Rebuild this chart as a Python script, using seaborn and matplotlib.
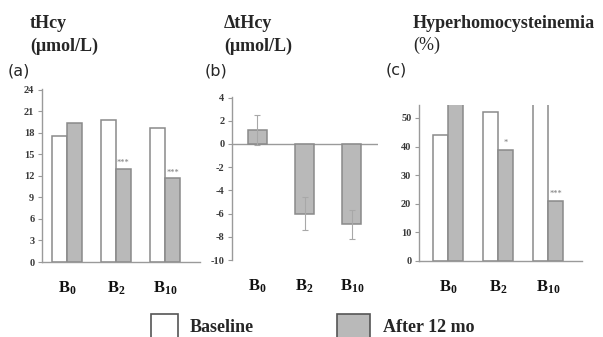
import matplotlib
matplotlib.use("Agg")
import matplotlib.pyplot as plt
from matplotlib.patches import Rectangle
import seaborn as sns
import pandas as pd
import numpy as np

# ---- data ----
groups = ["B0", "B2", "B10"]
group_labels = [r"$\mathbf{B_{0}}$", r"$\mathbf{B_{2}}$", r"$\mathbf{B_{10}}$"]
periods = ["Baseline", "After 12 mo"]
thcy_baseline = [17.6, 19.8, 18.6]
thcy_after = [19.3, 13.0, 11.7]
thcy_sig = ["", "***", "***"]
dthcy_mean = [1.2, -6.0, -6.9]
dthcy_err = [1.3, 1.45, 1.25]
hyper_baseline = [44.0, 52.0, 62.0]
hyper_after = [58.0, 38.7, 21.1]
hyper_sig = ["", "*", "***"]
a_ticks = [0, 3, 6, 9, 12, 15, 18, 21, 24]
b_ticks = [-10, -8, -6, -4, -2, 0, 2, 4]
c_ticks = [0, 10, 20, 30, 40, 50]

sns.set_style("white")
plt.rcParams["font.family"] = ["Liberation Serif", "DejaVu Serif"]
plt.rcParams["mathtext.fontset"] = "custom"
plt.rcParams["mathtext.bf"] = "Liberation Serif:bold"
plt.rcParams["mathtext.rm"] = "Liberation Serif"

W, H = 603, 337
fig = plt.figure(figsize=(W / 100, H / 100), dpi=100)

def px_axes(x0, x1, ytop, ybot):
    return fig.add_axes([x0 / W, 1 - ybot / H, (x1 - x0) / W, (ybot - ytop) / H])

EDGE = "#8a8a8a"
GRAYFILL = "#b9b9b9"
AXC = "#9a9a9a"

def style_axes(ax, ticks):
    sns.despine(ax=ax)
    ax.spines["left"].set_color(AXC)
    ax.spines["bottom"].set_color(AXC)
    ax.spines["left"].set_linewidth(1.0)
    ax.spines["bottom"].set_linewidth(1.0)
    ax.set_yticks(ticks)
    ax.set_yticklabels([str(t) for t in ticks], fontsize=7.5, fontweight="bold", color="#3a3a3a")
    ax.tick_params(axis="y", left=True, length=3, width=0.8, color=AXC, pad=2.5)
    ax.tick_params(axis="x", bottom=False, pad=9)
    ax.set_xticks(range(len(groups)))
    ax.set_xticklabels(group_labels, fontsize=12, color="#111111")
    ax.set_xlabel("")
    ax.set_ylabel("")

def grouped(ax, base, after, sig, ylim, xlim, sig_off):
    df = pd.DataFrame({
        "group": groups * 2,
        "period": [periods[0]] * 3 + [periods[1]] * 3,
        "value": list(base) + list(after),
    })
    sns.barplot(data=df, x="group", y="value", hue="period", order=groups,
                hue_order=periods, palette=["white", GRAYFILL], width=0.6,
                edgecolor=EDGE, linewidth=1.1, errorbar=None, legend=False, ax=ax,
                saturation=1)
    ax.set_ylim(*ylim)
    ax.set_xlim(*xlim)
    for i, (v, s) in enumerate(zip(after, sig)):
        if s:
            ax.text(i + 0.15, v + sig_off, s, ha="center", va="bottom",
                    fontsize=6, color="#777777")

# panel a
axa = px_axes(42, 200, 89, 262)
grouped(axa, thcy_baseline, thcy_after, thcy_sig, (0, 24.1), (-0.51, 2.71), 0.2)
style_axes(axa, a_ticks)

# panel b
axb = px_axes(232, 378, 97, 260)
dfb = pd.DataFrame({"group": groups, "value": dthcy_mean})
sns.barplot(data=dfb, x="group", y="value", order=groups, color=GRAYFILL,
            width=0.4, edgecolor=EDGE, linewidth=1.1, errorbar=None, ax=axb,
            saturation=1)
axb.errorbar(range(len(groups)), dthcy_mean, yerr=dthcy_err, fmt="none",
             ecolor="#a8a8a8", elinewidth=0.8, capsize=2.5, capthick=0.8)
axb.set_ylim(-10, 4.05)
axb.set_xlim(-0.53, 2.55)
style_axes(axb, b_ticks)
axb.spines["bottom"].set_visible(False)
axb.axhline(0, color=AXC, lw=1.0, zorder=0.5)

# panel c
axc = px_axes(419, 582, 105, 261)
grouped(axc, hyper_baseline, hyper_after, hyper_sig, (0, 54.5), (-0.58, 2.68), 1.0)
style_axes(axc, c_ticks)

# titles
def ftxt(x, y, s, **kw):
    fig.text(x / W, 1 - y / H, s, va="center", ha="left", **kw)

TS = 13
ftxt(30, 23, "tHcy", fontsize=TS, fontweight="bold")
ftxt(30, 46, "(\u03bcmol/L)", fontsize=TS, fontweight="bold")
ftxt(8, 71, "(a)", fontsize=11.5, family="DejaVu Sans")
ftxt(224, 23, "\u0394tHcy", fontsize=TS, fontweight="bold")
ftxt(224, 46, "(\u03bcmol/L)", fontsize=TS, fontweight="bold")
ftxt(205, 71, "(b)", fontsize=11.5, family="DejaVu Sans")
ftxt(413, 24, "Hyperhomocysteinemia", fontsize=TS, fontweight="bold")
ftxt(413, 45, "(%)", fontsize=TS)
ftxt(386, 70, "(c)", fontsize=11.5, family="DejaVu Sans")

# legend
for (x0, x1, fc, label, tx) in [(151, 178, "white", periods[0], 190),
                                (337, 370, GRAYFILL, periods[1], 383)]:
    fig.add_artist(Rectangle((x0 / W, -0.05), (x1 - x0) / W, (1 - 314 / H) + 0.05,
                             transform=fig.transFigure, facecolor=fc,
                             edgecolor="#555555", linewidth=1.2))
    ftxt(tx, 327, label, fontsize=13, fontweight="bold")

fig.savefig("out.png", dpi=100)
